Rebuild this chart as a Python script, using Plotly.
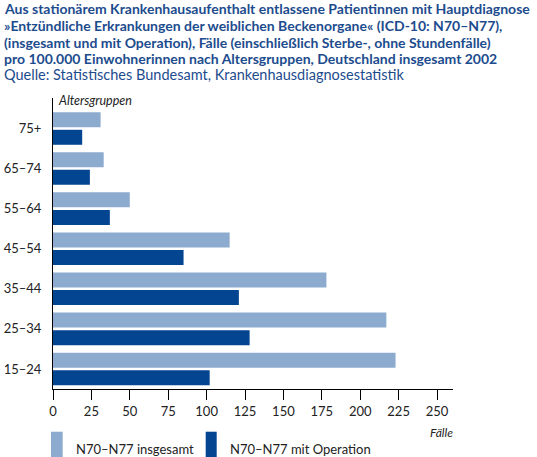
import plotly.graph_objects as go

categories = ["15–24", "25–34", "35–44", "45–54", "55–64", "65–74", "75+"]
insgesamt = [223, 217, 178, 115, 50, 33, 31]
mit_operation = [102, 128, 121, 85, 37, 24, 19]
x_ticks = [0, 25, 50, 75, 100, 125, 150, 175, 200, 225, 250]

title_lines = [
    "Aus stationärem Krankenhausaufenthalt entlassene Patientinnen mit Hauptdiagnose",
    "»Entzündliche Erkrankungen der weiblichen Beckenorgane« (ICD-10: N70–N77),",
    "(insgesamt und mit Operation), Fälle (einschließlich Sterbe-, ohne Stundenfälle)",
    "pro 100.000 Einwohnerinnen nach Altersgruppen, Deutschland insgesamt 2002",
]
source_line = "Quelle: Statistisches Bundesamt, Krankenhausdiagnosestatistik"
legend_names = ["N70–N77 insgesamt", "N70–N77 mit Operation"]

LIGHT = "#8dabcf"
DARK = "#034591"
TITLE_C = "#1d4c8e"
FONT = "Lato"

W, H = 537, 457
L, R, T, B = 53, 84, 98, 68
ph = H - T - B
pw = W - L - R

def py(y):
    return (H - B - y) / ph

def px(x):
    return (x - L) / pw

fig = go.Figure()
fig.add_trace(go.Bar(y=categories, x=mit_operation, orientation="h",
                     marker=dict(color=DARK, line=dict(width=0)), name=legend_names[1]))
fig.add_trace(go.Bar(y=categories, x=insgesamt, orientation="h",
                     marker=dict(color=LIGHT, line=dict(width=0)), name=legend_names[0]))

fig.update_layout(
    width=W, height=H,
    margin=dict(l=L, r=R, t=T, b=B, pad=0, autoexpand=False),
    paper_bgcolor="white", plot_bgcolor="white",
    barmode="group", bargap=0.12, bargroupgap=0.15,
    showlegend=False,
    font=dict(family=FONT, color="#222222", size=13),
)
fig.update_xaxes(range=[0, 260.4], tickvals=x_ticks, ticks="outside", ticklen=10,
                 tickcolor="#000", tickwidth=1, showline=True, linecolor="#000",
                 linewidth=1, showgrid=False, zeroline=False, automargin=False,
                 tickfont=dict(family=FONT, size=13, color="#222"))
fig.update_yaxes(categoryorder="array", categoryarray=categories, automargin=False,
                 range=[-0.5, 6.76], showline=True, linecolor="#000", linewidth=1,
                 showgrid=False, ticks="", ticklabelstandoff=8,
                 tickfont=dict(family=FONT, size=13, color="#222"))

ann = []
ys = [8, 25, 42, 58]
for t, y in zip(title_lines, ys):
    ann.append(dict(text="<b>" + t + "</b>", x=px(2), y=py(y), xref="paper", yref="paper",
                    xanchor="left", yanchor="middle", showarrow=False,
                    font=dict(family=FONT, size=14, color=TITLE_C)))
ann.append(dict(text=source_line, x=px(2), y=py(74), xref="paper", yref="paper",
                xanchor="left", yanchor="middle", showarrow=False,
                font=dict(family=FONT, size=14.5, color=TITLE_C)))
ann.append(dict(text="<i>Altersgruppen</i>", x=px(56), y=py(101), xref="paper", yref="paper",
                xanchor="left", yanchor="middle", showarrow=False,
                font=dict(family=FONT, size=12.5, color="#222")))
ann.append(dict(text="<i>Fälle</i>", x=px(455), y=py(432), xref="paper", yref="paper",
                xanchor="right", yanchor="middle", showarrow=False,
                font=dict(family=FONT, size=12, color="#222")))
ann.append(dict(text=legend_names[0], x=px(74), y=py(449), xref="paper", yref="paper",
                xanchor="left", yanchor="middle", showarrow=False,
                font=dict(family=FONT, size=13, color="#222")))
ann.append(dict(text=legend_names[1], x=px(228), y=py(449), xref="paper", yref="paper",
                xanchor="left", yanchor="middle", showarrow=False,
                font=dict(family=FONT, size=13, color="#222")))
fig.update_layout(annotations=ann)

shapes = [
    dict(type="rect", xref="paper", yref="paper", x0=px(51), x1=px(62.7), y0=py(457), y1=py(431.7),
         fillcolor=LIGHT, line=dict(width=0)),
    dict(type="rect", xref="paper", yref="paper", x0=px(205.7), x1=px(216.7), y0=py(457), y1=py(431.7),
         fillcolor=DARK, line=dict(width=0)),
]
fig.update_layout(shapes=shapes)

fig.write_html("out.html")
